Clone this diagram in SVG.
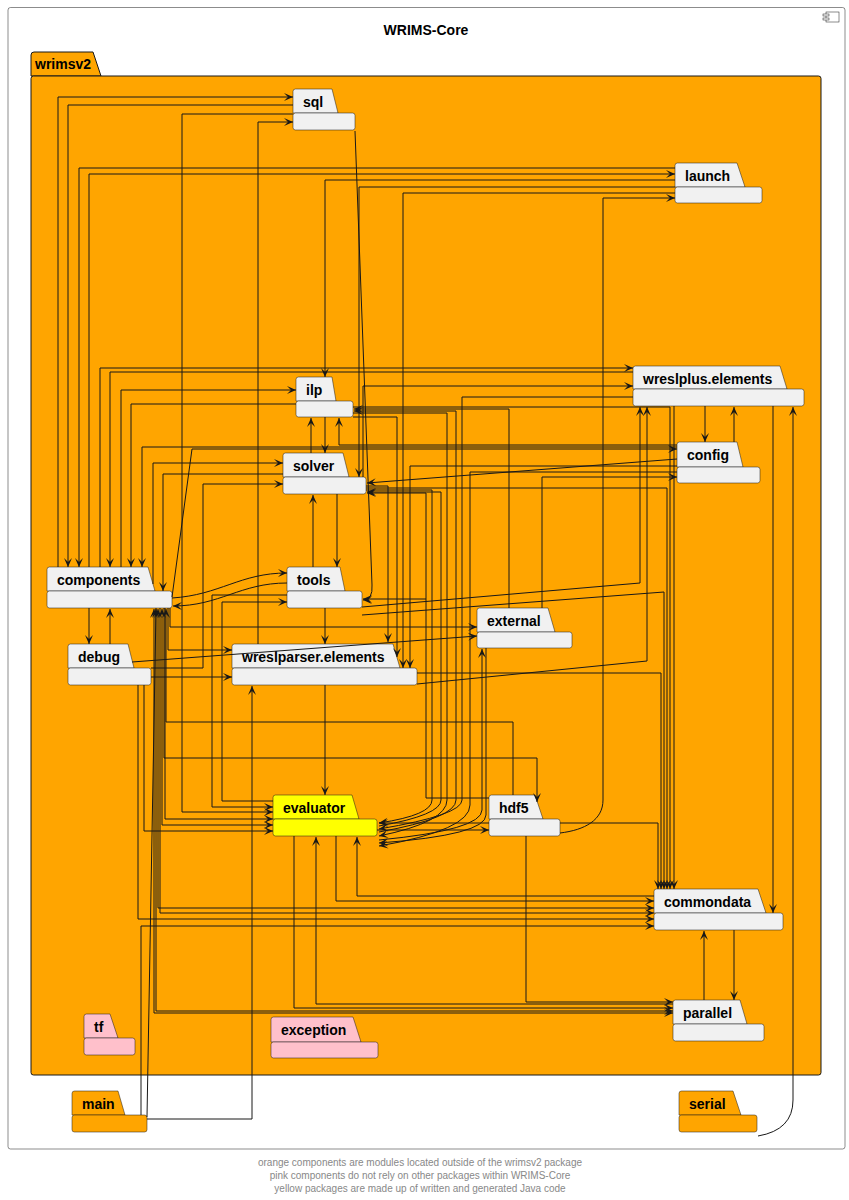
<svg xmlns="http://www.w3.org/2000/svg" width="849" height="1200" viewBox="0 0 849 1200">
<style>
.pk{fill:#F1F1F1;stroke:#181818;stroke-width:0.5}
.pink{fill:#FFC0CB;stroke:#181818;stroke-width:0.5}
.yel{fill:#FFFF00;stroke:#181818;stroke-width:0.5}
.org{fill:#FFA500;stroke:#181818;stroke-width:0.5}
.lbl{font-family:"Liberation Sans",Arial,sans-serif;font-size:14px;font-weight:bold;fill:#000}
.c path{fill:none;stroke:#181818;stroke-width:1;marker-end:url(#ah)}
.c path.n{marker-end:none}
.c path.b{marker-start:url(#ah)}
.foot{font-family:"Liberation Sans",Arial,sans-serif;font-size:10px;fill:#888;text-anchor:middle}
</style>
<defs>
<marker id="ah" viewBox="-10 -5 10 10" refX="0" refY="0" markerWidth="10" markerHeight="10" markerUnits="userSpaceOnUse" orient="auto-start-reverse"><path d="M0,0 L-9,-4 L-5,0 L-9,4 Z" fill="#181818"/></marker>
</defs>
<rect width="849" height="1200" fill="#fff"/>
<g id="WRIMS-Core">
<rect x="8" y="7.5" width="837" height="1141.5" rx="2.5" fill="#fff" stroke="#181818" stroke-width="0.5"/>
<rect x="826" y="12" width="13" height="10" fill="#fff" stroke="#181818" stroke-width="0.5"/>
<rect x="823" y="14" width="6" height="2" fill="#fff" stroke="#181818" stroke-width="0.5"/>
<rect x="823" y="18" width="6" height="2" fill="#fff" stroke="#181818" stroke-width="0.5"/>
<text x="426" y="35" class="lbl" text-anchor="middle">WRIMS-Core</text>
</g>
<g id="wrimsv2">
<path d="M31,76 V55 Q31,52 34,52 H93 L101,76 Z" fill="#FFA500" stroke="#181818" stroke-width="1"/>
<rect x="31" y="76" width="790" height="999" rx="2.5" fill="#FFA500" stroke="#181818" stroke-width="1"/>
<text x="35" y="69" class="lbl">wrimsv2</text>
</g>
<g id="sql"><path class="pk" d="M293,113 V91.5 Q293,89 295.5,89 H332 L338,113 Z"/><rect class="pk" x="293" y="113" width="62" height="17" rx="2.5"/><text class="lbl" x="303" y="106.5">sql</text></g>
<g id="launch"><path class="pk" d="M675,187 V165.5 Q675,163 677.5,163 H737 L745,187 Z"/><rect class="pk" x="675" y="187" width="87" height="16" rx="2.5"/><text class="lbl" x="685" y="180.5">launch</text></g>
<g id="wreslplus.elements"><path class="pk" d="M633,389 V368.5 Q633,366 635.5,366 H780 L787,389 Z"/><rect class="pk" x="633" y="389" width="171" height="17" rx="2.5"/><text class="lbl" x="643" y="383.5">wreslplus.elements</text></g>
<g id="ilp"><path class="pk" d="M296,401 V379.5 Q296,377 298.5,377 H332 L336,401 Z"/><rect class="pk" x="296" y="401" width="57" height="16" rx="2.5"/><text class="lbl" x="306" y="394.5">ilp</text></g>
<g id="solver"><path class="pk" d="M283,477 V455.5 Q283,453 285.5,453 H343 L349,477 Z"/><rect class="pk" x="283" y="477" width="83" height="17" rx="2.5"/><text class="lbl" x="293" y="470.5">solver</text></g>
<g id="config"><path class="pk" d="M677,467 V444.5 Q677,442 679.5,442 H737 L743,467 Z"/><rect class="pk" x="677" y="467" width="83" height="16" rx="2.5"/><text class="lbl" x="687" y="460">config</text></g>
<g id="components"><path class="pk" d="M47,591 V569.5 Q47,567 49.5,567 H148 L155,591 Z"/><rect class="pk" x="47" y="591" width="125" height="17" rx="2.5"/><text class="lbl" x="57" y="585">components</text></g>
<g id="tools"><path class="pk" d="M287,591 V569.5 Q287,567 289.5,567 H340 L345,591 Z"/><rect class="pk" x="287" y="591" width="75" height="17" rx="2.5"/><text class="lbl" x="297" y="585">tools</text></g>
<g id="external"><path class="pk" d="M477,632 V610.5 Q477,608 479.5,608 H548 L555,632 Z"/><rect class="pk" x="477" y="632" width="95" height="16" rx="2.5"/><text class="lbl" x="487" y="626">external</text></g>
<g id="debug"><path class="pk" d="M68,668 V646.5 Q68,644 70.5,644 H128 L134,668 Z"/><rect class="pk" x="68" y="668" width="83" height="17" rx="2.5"/><text class="lbl" x="78" y="662">debug</text></g>
<g id="wreslparser.elements"><path class="pk" d="M232,668 V646.5 Q232,644 234.5,644 H393 L400,668 Z"/><rect class="pk" x="232" y="668" width="185" height="17" rx="2.5"/><text class="lbl" x="242" y="662">wreslparser.elements</text></g>
<g id="evaluator"><path class="yel" d="M273,819 V797.5 Q273,795 275.5,795 H352 L359,819 Z"/><rect class="yel" x="273" y="819" width="104" height="17" rx="2.5"/><text class="lbl" x="283" y="813">evaluator</text></g>
<g id="hdf5"><path class="pk" d="M489,819 V797.5 Q489,795 491.5,795 H535 L543,819 Z"/><rect class="pk" x="489" y="819" width="71" height="17" rx="2.5"/><text class="lbl" x="499" y="813">hdf5</text></g>
<g id="commondata"><path class="pk" d="M654,913 V891.5 Q654,889 656.5,889 H758 L766,913 Z"/><rect class="pk" x="654" y="913" width="129" height="17" rx="2.5"/><text class="lbl" x="664" y="907">commondata</text></g>
<g id="parallel"><path class="pk" d="M673,1024 V1002.5 Q673,1000 675.5,1000 H740 L747,1024 Z"/><rect class="pk" x="673" y="1024" width="91" height="17" rx="2.5"/><text class="lbl" x="683" y="1018">parallel</text></g>
<g id="tf"><path class="pink" d="M84,1038 V1016.5 Q84,1014 86.5,1014 H110 L118,1038 Z"/><rect class="pink" x="84" y="1038" width="51" height="17" rx="2.5"/><text class="lbl" x="94" y="1032">tf</text></g>
<g id="exception"><path class="pink" d="M271,1042 V1019.5 Q271,1017 273.5,1017 H353 L361,1042 Z"/><rect class="pink" x="271" y="1042" width="107" height="16" rx="2.5"/><text class="lbl" x="281" y="1035">exception</text></g>
<g id="main"><path class="org" d="M72,1115 V1093.5 Q72,1091 74.5,1091 H118 L125,1115 Z"/><rect class="org" x="72" y="1115" width="75" height="17" rx="2.5"/><text class="lbl" x="82" y="1109">main</text></g>
<g id="serial"><path class="org" d="M679,1115 V1093.5 Q679,1091 681.5,1091 H733 L741,1115 Z"/><rect class="org" x="679" y="1115" width="78" height="17" rx="2.5"/><text class="lbl" x="689" y="1109">serial</text></g>
<g id="connectors" class="c">
<path d="M58,567 V97 H293"/>
<path d="M293,105 H68 V567"/>
<path d="M675,168 H79 V567"/>
<path d="M89,567 V174 H675"/>
<path d="M675,180 H325 V377"/>
<path d="M675,187 H359 V477"/>
<path d="M675,193 H403 V668"/>
<path d="M560,833 C585,830 603,820 603,800 V198 H675"/>
<path d="M293,114 H182 V812 H273"/>
<path d="M258,644 V122 H293"/>
<path d="M355,131 L372,585 Q373,600 363,600"/>
<path d="M100,567 V368 H633"/>
<path d="M633,372 H110 V567"/>
<path d="M363,477 V386 H633"/>
<path d="M633,397 H462 V800 Q462,815 379,829"/>
<path d="M705,406 V442"/>
<path d="M734,442 V407"/>
<path d="M674,406 V889"/>
<path d="M773,406 V913"/>
<path d="M758,1136 Q793,1130 793,1100 V407"/>
<path d="M362,607 L640,583 V407"/>
<path d="M417,684 L647,661 V407"/>
<path d="M121,567 V390 H296"/>
<path d="M296,404 H131 V567"/>
<path d="M325,417 V453"/>
<path d="M311,453 V418"/>
<path d="M677,445 H339 V418"/>
<path d="M509,608 V409 H354"/>
<path d="M353,407 H670 V889"/>
<path d="M353,417 H397 V657"/>
<path d="M379,832 Q456,818 456,800 V411 H354"/>
<path d="M353,413 H447 V800 Q447,822 379,836"/>
<path d="M153,584 V463 H283"/>
<path d="M283,474 H163 V591"/>
<path d="M151,668 H203 V484 H283"/>
<path d="M677,459 L367,483"/>
<path d="M366,486 H388 V642"/>
<path d="M366,488 H667 V889"/>
<path d="M366,490 H432 V800 Q432,815 379,823"/>
<path d="M379,826 Q441,815 441,800 V492 H367"/>
<path d="M489,798 H426 V493 H367"/>
<path d="M337,494 V567"/>
<path d="M313,567 V495"/>
<path d="M172,598 C220,595 240,573 287,573"/>
<path d="M287,583 C240,583 220,606 173,606"/>
<path d="M273,801 H222 V602 H287"/>
<path d="M287,595 H212 V807 H273"/>
<path d="M325,608 V644"/>
<path d="M362,615 L664,592 V889"/>
<path d="M426,599 H363"/>
<path d="M677,447 H142 V567"/>
<path d="M172,597 L192,449 H677"/>
<path d="M677,466 H410 V668"/>
<path d="M677,472 H470 V805 Q470,830 379,846"/>
<path d="M542,608 V477 H677"/>
<path d="M170,608 V627 H477"/>
<path d="M132,662 L477,636"/>
<path d="M379,840 Q482,830 482,810 V649"/>
<path d="M486,648 V815 Q486,835 379,843"/>
<path d="M89,608 V644"/>
<path d="M110,644 V609"/>
<path d="M151,677 H232"/>
<path d="M144,685 V831 H273"/>
<path d="M138,685 V919 H654"/>
<path d="M168,608 V650 H232"/>
<path d="M325,685 V795"/>
<path d="M417,673 H661 V889"/>
<path d="M147,1119 H252 V686"/>
<path d="M513,795 V722 H166 V609"/>
<path d="M164,608 V758 H537 V802"/>
<path d="M377,830 H489"/>
<path d="M489,823 H379"/>
<path d="M560,823 H658 V889"/>
<path d="M526,836 V1002 H673"/>
<path d="M294,836 V1008 H673"/>
<path d="M673,1004 H316 V837"/>
<path d="M336,836 V901 H654"/>
<path d="M654,896 H357 V837"/>
<path class="b" d="M158,609 V908 H654"/>
<path d="M160,608 V913 H654"/>
<path class="b" d="M162,609 V825 H273"/>
<path d="M165,608 V819 H273"/>
<path class="b" d="M154,609 V1013 H673"/>
<path d="M156,608 V1011 H673"/>
<path d="M141,1115 V926 H654"/>
<path d="M147,1117 L156,609"/>
<path d="M704,1000 V931"/>
<path d="M734,930 V1000"/>
</g>
<text class="foot" x="420" y="1166">orange components are modules located outside of the wrimsv2 package</text>
<text class="foot" x="420" y="1179">pink components do not rely on other packages within WRIMS-Core</text>
<text class="foot" x="420" y="1192">yellow packages are made up of written and generated Java code</text>
</svg>
